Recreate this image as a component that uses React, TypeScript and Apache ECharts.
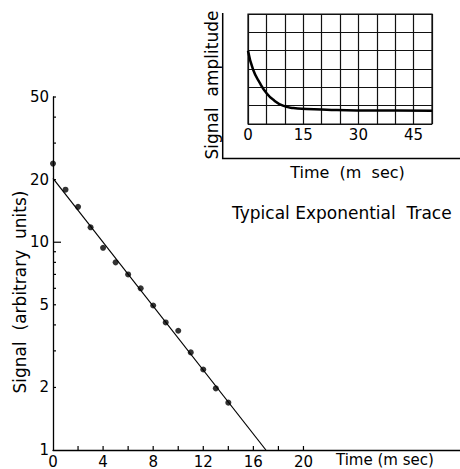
import React, { useEffect, useRef } from 'react';
import * as echarts from 'echarts';

// Main plot data
const pointTimes = [0, 1, 2, 3, 4, 5, 6, 7, 8, 9, 10, 11, 12, 13, 14];
const pointSignals = [23.9, 17.9, 14.8, 11.8, 9.4, 8.0, 7.0, 6.0, 4.96, 4.11, 3.75, 2.95, 2.44, 1.98, 1.69];
const fitTimes = [0, 17];
const fitSignals = [20.3, 1];

// Main axis ticks / labels
const yLabelValues = [1, 2, 5, 10, 20, 50];
const yTickValues = [2, 3, 4, 5, 6, 7, 8, 9, 10, 20, 30, 40, 50];
const yLongTickValues = [10];
const xTickValues = [2, 4, 6, 8, 10, 12, 14, 16, 18, 20];
const xLabelMax = 20;

// Inset trace data
const insetTimes = [0, 1.4, 3.2, 5, 6.8, 9.5, 12.3, 15.9, 21.4, 29.6, 40, 50];
const insetAmplitudes = [4.0, 2.96, 2.24, 1.69, 1.33, 1.0, 0.87, 0.82, 0.78, 0.74, 0.73, 0.72];
const insetXLabels = [0, 15, 30, 45];

const FONT = 'DejaVu Sans';

export default function App() {
  const ref = useRef<HTMLDivElement>(null);
  useEffect(() => {
    if (!ref.current) return;
    const chart = echarts.init(ref.current, undefined, { renderer: 'svg' });
    const txt = { fontFamily: FONT, color: '#000' };
    const option: any = {
      animation: false,
      backgroundColor: '#fff',
      grid: [
        { left: 53, top: 97, right: 0, bottom: 18 },
        { left: 248, top: 14, width: 184, height: 110, show: true, borderColor: '#111', borderWidth: 1.2 },
      ],
      xAxis: [
        {
          gridIndex: 0, type: 'value', min: 0, max: 32.5, interval: 4,
          axisLine: { show: true, onZero: false, lineStyle: { color: '#000', width: 1.3 } },
          axisTick: { show: false }, splitLine: { show: false },
          axisLabel: { ...txt, fontSize: 15, margin: 4, showMaxLabel: false,
            formatter: (v: number) => (v <= xLabelMax ? String(v) : '') },
        },
        {
          gridIndex: 1, type: 'value', min: 0, max: 50, interval: 5,
          axisLine: { show: false }, axisTick: { show: false },
          splitLine: { show: true, lineStyle: { color: '#111', width: 1.2 } },
          axisLabel: { ...txt, fontSize: 15, margin: 3, showMaxLabel: false,
            formatter: (v: number) => (insetXLabels.includes(v) ? String(v) : '') },
        },
      ],
      yAxis: [
        {
          gridIndex: 0, type: 'log', logBase: 10, min: 1, max: 50,
          axisLine: { show: true, onZero: false, lineStyle: { color: '#000', width: 1.3 } },
          axisTick: { show: false }, axisLabel: { show: false }, splitLine: { show: false },
        },
        {
          gridIndex: 1, type: 'value', min: 0, max: 6, interval: 1,
          axisLine: { show: false }, axisTick: { show: false }, axisLabel: { show: false },
          splitLine: { show: true, lineStyle: { color: '#111', width: 1.2 } },
        },
      ],
      series: [
        {
          type: 'line', xAxisIndex: 0, yAxisIndex: 0, showSymbol: false, silent: true,
          data: fitTimes.map((t, i) => [t, fitSignals[i]]),
          lineStyle: { color: '#000', width: 1.2 },
        },
        {
          type: 'scatter', xAxisIndex: 0, yAxisIndex: 0, symbolSize: 6, silent: true,
          data: pointTimes.map((t, i) => [t, pointSignals[i]]),
          itemStyle: { color: '#000' },
        },
        {
          type: 'custom', xAxisIndex: 0, yAxisIndex: 0, clip: false, silent: true,
          data: yTickValues.map((v) => [0, v]),
          renderItem: (params: any, api: any) => {
            const v = api.value(1);
            const p = api.coord([0, v]);
            const len = yLongTickValues.includes(v) ? 8 : 3;
            return { type: 'line', shape: { x1: p[0], y1: p[1], x2: p[0] + len, y2: p[1] },
              style: { stroke: '#000', lineWidth: 1.2 } };
          },
        },
        {
          type: 'custom', xAxisIndex: 0, yAxisIndex: 0, clip: false, silent: true,
          data: yLabelValues.map((v) => [0, v]),
          renderItem: (params: any, api: any) => {
            const v = api.value(1);
            const p = api.coord([0, v]);
            return { type: 'text', x: p[0] - 4, y: p[1],
              style: { text: String(v), textAlign: 'right', textVerticalAlign: 'middle',
                fontFamily: FONT, fontSize: 15, fill: '#000' } };
          },
        },
        {
          type: 'custom', xAxisIndex: 0, yAxisIndex: 0, clip: false, silent: true,
          data: xTickValues.map((v) => [v, 1]),
          renderItem: (params: any, api: any) => {
            const p = api.coord([api.value(0), 1]);
            return { type: 'line', shape: { x1: p[0], y1: p[1], x2: p[0], y2: p[1] - 4 },
              style: { stroke: '#000', lineWidth: 1.2 } };
          },
        },
        {
          type: 'line', xAxisIndex: 1, yAxisIndex: 1, showSymbol: false, smooth: true, silent: true,
          data: insetTimes.map((t, i) => [t, insetAmplitudes[i]]),
          lineStyle: { color: '#000', width: 2.5 },
        },
      ],
      graphic: [
        { type: 'line', shape: { x1: 222.7, y1: 13, x2: 222.7, y2: 159 }, style: { stroke: '#000', lineWidth: 1.5 } },
        { type: 'line', shape: { x1: 222, y1: 158.5, x2: 460, y2: 158.5 }, style: { stroke: '#000', lineWidth: 1.5 } },
        { type: 'text', x: 212, y: 85, rotation: Math.PI / 2,
          style: { text: 'Signal  amplitude', textAlign: 'center', textVerticalAlign: 'middle', fontFamily: FONT, fontSize: 17, fill: '#000' } },
        { type: 'text', x: 347.5, y: 172,
          style: { text: 'Time  (m  sec)', textAlign: 'center', textVerticalAlign: 'middle', fontFamily: FONT, fontSize: 16, fill: '#000' } },
        { type: 'text', x: 232, y: 212.5,
          style: { text: 'Typical Exponential  Trace', textAlign: 'left', textVerticalAlign: 'middle', fontFamily: FONT, fontSize: 17, fill: '#000' } },
        { type: 'text', x: 336, y: 459.5,
          style: { text: 'Time (m sec)', textAlign: 'left', textVerticalAlign: 'middle', fontFamily: FONT, fontSize: 15, fill: '#000' } },
        { type: 'text', x: 19.5, y: 292, rotation: Math.PI / 2,
          style: { text: 'Signal  (arbitrary  units)', textAlign: 'center', textVerticalAlign: 'middle', fontFamily: FONT, fontSize: 17, fill: '#000' } },
      ],
    };
    chart.setOption(option);
    return () => chart.dispose();
  }, []);
  return <div ref={ref} style={{ position: 'fixed', left: 0, top: 0, width: 460, height: 469 }} />;
}
